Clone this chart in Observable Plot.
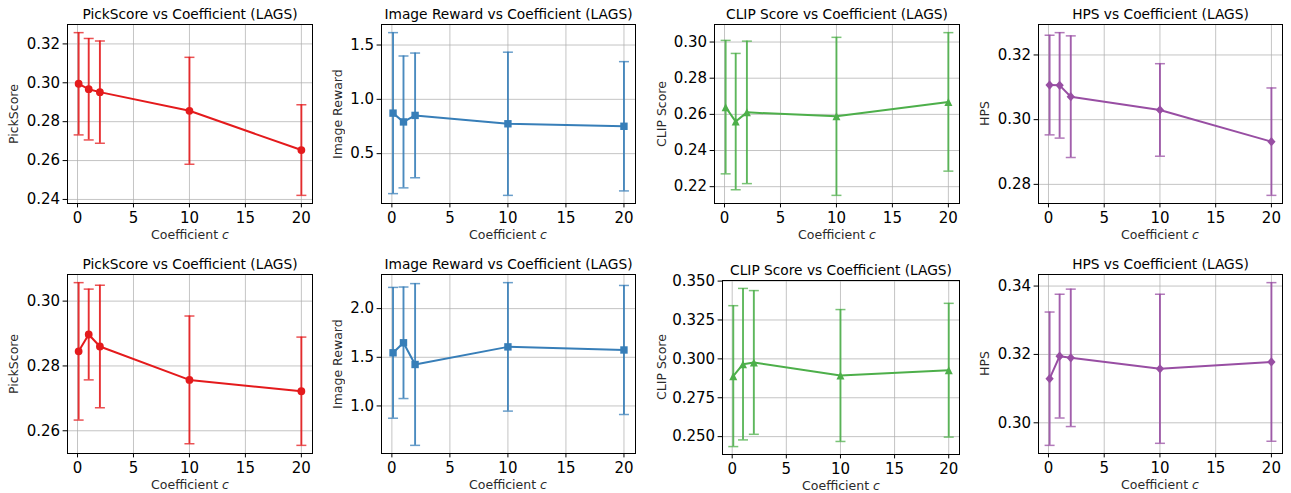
<!DOCTYPE html>
<html>
<head>
<meta charset="utf-8">
<script src="https://cdn.jsdelivr.net/npm/d3@7"></script>
<script src="https://cdn.jsdelivr.net/npm/@observablehq/plot@0.6"></script>
<style>
  html, body { margin: 0; padding: 0; background: #fff; }
  #fig { position: relative; width: 1291px; height: 493px; background: #fff; font-family: "DejaVu Sans", sans-serif; color: #000; overflow: hidden; }
  .hl { position: absolute; white-space: nowrap; text-align: center; width: 300px; height: 16px; line-height: 16px; color: #2a2a2a; }
  .vl { position: absolute; white-space: nowrap; text-align: center; width: 16px; height: 200px; line-height: 16px; writing-mode: vertical-rl; transform: rotate(180deg); color: #2a2a2a; }
  .panel { position: absolute; }
</style>
</head>
<body>
<div id="fig"></div>
<script>
// ---------- data ----------
const coefficients = [0.1, 1, 2, 10, 20];
const metricNames = ["PickScore", "Image Reward", "CLIP Score", "HPS"];
const xTicks = [0, 5, 10, 15, 20];

// Row 1
const pickScore1    = [0.2995, 0.2967, 0.2952, 0.2856, 0.2654];
const pickScore1Err = [0.0263, 0.0261, 0.0263, 0.0275, 0.0233];
const imageReward1    = [0.873, 0.792, 0.852, 0.775, 0.752];
const imageReward1Err = [0.741, 0.607, 0.574, 0.659, 0.595];
const clipScore1    = [0.2640, 0.2560, 0.2611, 0.2589, 0.2669];
const clipScore1Err = [0.0369, 0.0377, 0.0394, 0.0437, 0.0383];
const hps1    = [0.3107, 0.3106, 0.3071, 0.3030, 0.2932];
const hps1Err = [0.0154, 0.0163, 0.0188, 0.0143, 0.0166];

// Row 2
const pickScore2    = [0.2845, 0.2897, 0.2860, 0.2757, 0.2722];
const pickScore2Err = [0.0212, 0.0140, 0.0189, 0.0197, 0.0167];
const imageReward2    = [1.546, 1.649, 1.426, 1.607, 1.575];
const imageReward2Err = [0.672, 0.573, 0.831, 0.660, 0.663];
const clipScore2    = [0.2889, 0.2966, 0.2977, 0.2893, 0.2927];
const clipScore2Err = [0.0453, 0.0487, 0.0462, 0.0424, 0.0430];
const hps2    = [0.3129, 0.3195, 0.3190, 0.3158, 0.3178];
const hps2Err = [0.0195, 0.0181, 0.0201, 0.0218, 0.0232];

// y tick labels
const pickScore1Ticks   = [0.24, 0.26, 0.28, 0.30, 0.32];
const imageReward1Ticks = [0.5, 1.0, 1.5];
const clipScore1Ticks   = [0.22, 0.24, 0.26, 0.28, 0.30];
const hps1Ticks         = [0.28, 0.30, 0.32];
const pickScore2Ticks   = [0.26, 0.28, 0.30];
const imageReward2Ticks = [1.0, 1.5, 2.0];
const clipScore2Ticks   = [0.250, 0.275, 0.300, 0.325, 0.350];
const hps2Ticks         = [0.30, 0.32, 0.34];

// ---------- styles & layout ----------
const colors = ["#e41a1c", "#377eb8", "#4daf4a", "#984ea3"];
const symbols = {
  circle:   {draw(ctx) { const r = 3.9; ctx.moveTo(r, 0); ctx.arc(0, 0, r, 0, 2 * Math.PI); ctx.closePath(); }},
  square:   {draw(ctx) { const s = 3.7; ctx.rect(-s, -s, 2 * s, 2 * s); }},
  triangle: {draw(ctx) { const s = 4.0; ctx.moveTo(0, -s); ctx.lineTo(s, s); ctx.lineTo(-s, s); ctx.closePath(); }},
  diamond:  {draw(ctx) { const s = 4.6; ctx.moveTo(0, -s); ctx.lineTo(s * 0.9, 0); ctx.lineTo(0, s); ctx.lineTo(-s * 0.9, 0); ctx.closePath(); }},
  cap:      {draw(ctx) { ctx.moveTo(-5, 0); ctx.lineTo(5, 0); }}
};
const markerOrder = [symbols.circle, symbols.square, symbols.triangle, symbols.diamond];

const panels = [
  {metric: 0, means: pickScore1,   errs: pickScore1Err,   ticks: pickScore1Ticks,   fmt: ".2f"},
  {metric: 1, means: imageReward1, errs: imageReward1Err, ticks: imageReward1Ticks, fmt: ".1f"},
  {metric: 2, means: clipScore1,   errs: clipScore1Err,   ticks: clipScore1Ticks,   fmt: ".2f"},
  {metric: 3, means: hps1,         errs: hps1Err,         ticks: hps1Ticks,         fmt: ".2f"},
  {metric: 0, means: pickScore2,   errs: pickScore2Err,   ticks: pickScore2Ticks,   fmt: ".2f"},
  {metric: 1, means: imageReward2, errs: imageReward2Err, ticks: imageReward2Ticks, fmt: ".1f"},
  {metric: 2, means: clipScore2,   errs: clipScore2Err,   ticks: clipScore2Ticks,   fmt: ".3f"},
  {metric: 3, means: hps2,         errs: hps2Err,         ticks: hps2Ticks,         fmt: ".2f"}
];

// frame boxes (pixel layout)
const frames = [
  {left: 67,   top: 24,  right: 312,  bottom: 203, ylab: 53},
  {left: 381,  top: 24,  right: 635,  bottom: 203, ylab: 43},
  {left: 714,  top: 24,  right: 959,  bottom: 203, ylab: 52},
  {left: 1038, top: 24,  right: 1282, bottom: 203, ylab: 53},
  {left: 67,   top: 274, right: 312,  bottom: 453, ylab: 53},
  {left: 381,  top: 274, right: 635,  bottom: 453, ylab: 43},
  {left: 722,  top: 280, right: 959,  bottom: 454, ylab: 60},
  {left: 1038, top: 274, right: 1282, bottom: 453, ylab: 53}
];

const fig = document.getElementById("fig");
const mL = 62, mR = 6, mT = 22, mB = 26;

function pad(lo, hi) { const m = (hi - lo) * 0.05; return [lo - m, hi + m]; }

panels.forEach((p, i) => {
  const f = frames[i];
  const color = colors[p.metric];
  const data = coefficients.map((c, j) => ({x: c, y: p.means[j], lo: p.means[j] - p.errs[j], hi: p.means[j] + p.errs[j]}));
  const xDom = pad(d3.min(coefficients), d3.max(coefficients));
  const yDom = pad(d3.min(data, d => d.lo), d3.max(data, d => d.hi));
  const fw = f.right - f.left, fh = f.bottom - f.top;

  const svg = Plot.plot({
    width: fw + mL + mR,
    height: fh + mT + mB,
    marginLeft: mL, marginRight: mR, marginTop: mT, marginBottom: mB,
    style: {fontFamily: "DejaVu Sans", fontSize: "15px", color: "#000", background: "transparent", overflow: "visible"},
    x: {domain: xDom, axis: null},
    y: {domain: yDom, axis: null},
    marks: [
      Plot.gridX(xTicks, {stroke: "#b0b0b0", strokeOpacity: 0.75, strokeWidth: 1}),
      Plot.gridY(p.ticks, {stroke: "#b0b0b0", strokeOpacity: 0.75, strokeWidth: 1}),
      Plot.ruleX(data, {x: "x", y1: "lo", y2: "hi", stroke: color, strokeWidth: 1.9, strokeOpacity: 0.9}),
      Plot.dot(data, {x: "x", y: "hi", symbol: symbols.cap, r: 5, fill: "none", stroke: color, strokeWidth: 1.5, strokeOpacity: 0.75}),
      Plot.dot(data, {x: "x", y: "lo", symbol: symbols.cap, r: 5, fill: "none", stroke: color, strokeWidth: 1.5, strokeOpacity: 0.75}),
      Plot.line(data, {x: "x", y: "y", stroke: color, strokeWidth: 2}),
      Plot.dot(data, {x: "x", y: "y", symbol: markerOrder[p.metric], r: 4, fill: color, stroke: "none"}),
      Plot.frame({stroke: "#000", strokeWidth: 1}),
      Plot.axisX(xTicks, {tickSize: 4.4, tickPadding: 4, fontSize: 15, label: null, tickFormat: d => String(d), stroke: "#000"}),
      Plot.axisY(p.ticks, {tickSize: 4.4, tickPadding: 3, fontSize: 15, label: null, tickFormat: d3.format(p.fmt), stroke: "#000"}),
      Plot.text([`${metricNames[p.metric]} vs Coefficient (LAGS)`], {frameAnchor: "top", dy: -9.5, lineAnchor: "middle", fontSize: 13.75, fill: "#000", text: d => d})
    ]
  });
  const wrap = document.createElement("div");
  wrap.className = "panel";
  wrap.style.left = (f.left - mL) + "px";
  wrap.style.top = (f.top - mT) + "px";
  wrap.appendChild(svg);
  fig.appendChild(wrap);

  const cx = Math.round((f.left + f.right) / 2), cy = Math.round((f.top + f.bottom) / 2);

  const xl = document.createElement("div");
  xl.className = "hl";
  xl.style.cssText = `left:${cx - 150}px;top:${f.bottom + 24}px;font-size:12.5px;`;
  xl.innerHTML = `Coefficient <i>c</i>`;
  fig.appendChild(xl);

  const yl = document.createElement("div");
  yl.className = "vl";
  yl.style.cssText = `left:${f.left - f.ylab - 8}px;top:${cy - 100}px;font-size:12.5px;`;
  yl.textContent = metricNames[p.metric];
  fig.appendChild(yl);
});
</script>
</body>
</html>
